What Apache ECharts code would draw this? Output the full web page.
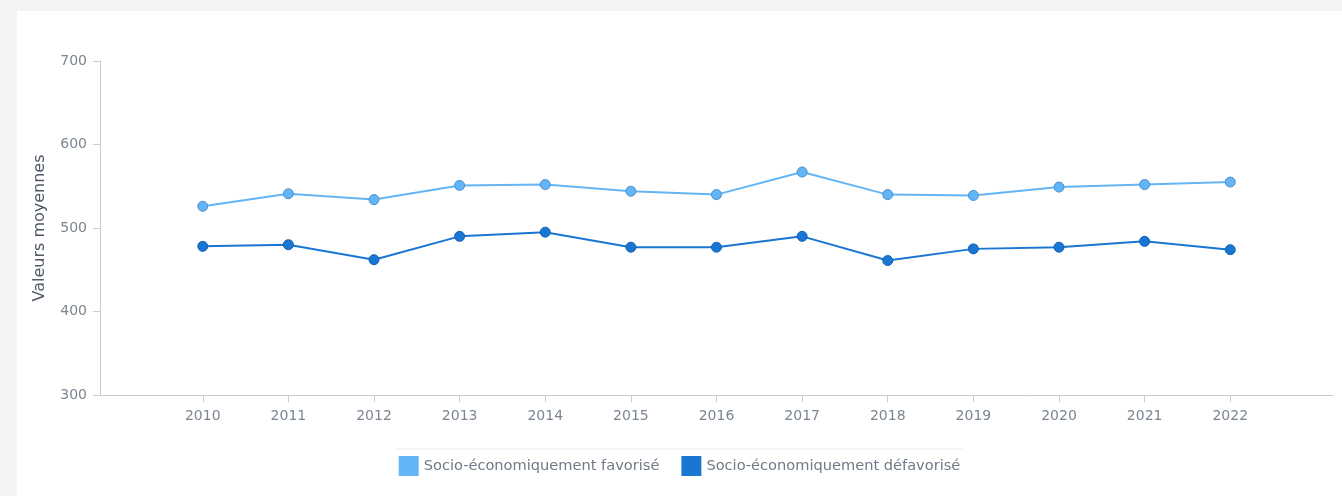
<!DOCTYPE html>
<html>
<head>
<meta charset="utf-8">
<script src="https://cdn.jsdelivr.net/npm/echarts@6/dist/echarts.min.js"></script>
<style>
  html, body { margin: 0; padding: 0; background: #f4f4f4; width: 1342px; height: 496px; overflow: hidden; }
  #chart { position: absolute; left: 17px; top: 11px; width: 1325px; height: 485px; background: #ffffff; }
</style>
</head>
<body>
<div id="chart"></div>
<script>
// years shown on the x axis
const years = [2010, 2011, 2012, 2013, 2014, 2015, 2016, 2017, 2018, 2019, 2020, 2021, 2022];
// mean values per group
const favorise = [526, 541, 534, 551, 552, 544, 540, 567, 540, 539, 549, 552, 555];
const defavorise = [478, 480, 462, 490, 495, 477, 477, 490, 461, 475, 477, 484, 474];
const seriesNames = ['Socio-économiquement favorisé', 'Socio-économiquement défavorisé'];
const yTicks = [300, 400, 500, 600, 700];

const labelColor = '#7b8692';
const axisColor = '#cccccc';

const chart = echarts.init(document.getElementById('chart'));

const toPairs = (vals) => vals.map((v, i) => [years[i], v]);

chart.setOption({
  animation: false,
  textStyle: { fontFamily: 'DejaVu Sans' },
  grid: { left: 83, top: 50, right: 9, bottom: 101 },
  xAxis: {
    type: 'value',
    min: 2008.8,
    max: 2023.2,
    axisLine: { show: true, lineStyle: { color: axisColor } },
    axisTick: { show: true, length: 7, lineStyle: { color: axisColor }, customValues: years },
    axisLabel: { color: labelColor, fontSize: 14, margin: 14, customValues: years, formatter: (v) => String(v) },
    splitLine: { show: false }
  },
  yAxis: {
    type: 'value',
    min: yTicks[0],
    max: yTicks[yTicks.length - 1],
    interval: 100,
    name: 'Valeurs moyennes',
    nameLocation: 'middle',
    nameGap: 52,
    nameTextStyle: { color: '#4f5966', fontSize: 16 },
    axisLine: { show: true, lineStyle: { color: axisColor } },
    axisTick: { show: true, length: 7, lineStyle: { color: axisColor } },
    axisLabel: { color: labelColor, fontSize: 14, margin: 13 },
    splitLine: { show: false }
  },
  legend: {
    top: 440,
    left: 'center',
    icon: 'rect',
    itemWidth: 20,
    itemHeight: 20,
    itemGap: 22,
    itemStyle: { borderWidth: 0 },
    textStyle: { color: '#6f7a86', fontSize: 14.6 },
    data: seriesNames
  },
  graphic: [{
    type: 'line',
    shape: { x1: 378, y1: 438, x2: 946, y2: 438 },
    style: { stroke: '#ececec', lineWidth: 1 },
    silent: true
  }],
  series: [
    {
      name: seriesNames[0],
      type: 'line',
      data: toPairs(favorise),
      symbol: 'circle',
      symbolSize: 10,
      lineStyle: { color: '#64b5f6', width: 2 },
      itemStyle: { color: '#64b5f6', borderColor: '#4a8fcc', borderWidth: 1 }
    },
    {
      name: seriesNames[1],
      type: 'line',
      data: toPairs(defavorise),
      symbol: 'circle',
      symbolSize: 10,
      lineStyle: { color: '#1976d2', width: 2 },
      itemStyle: { color: '#1976d2', borderColor: '#1460b0', borderWidth: 1 }
    }
  ]
});
</script>
</body>
</html>
